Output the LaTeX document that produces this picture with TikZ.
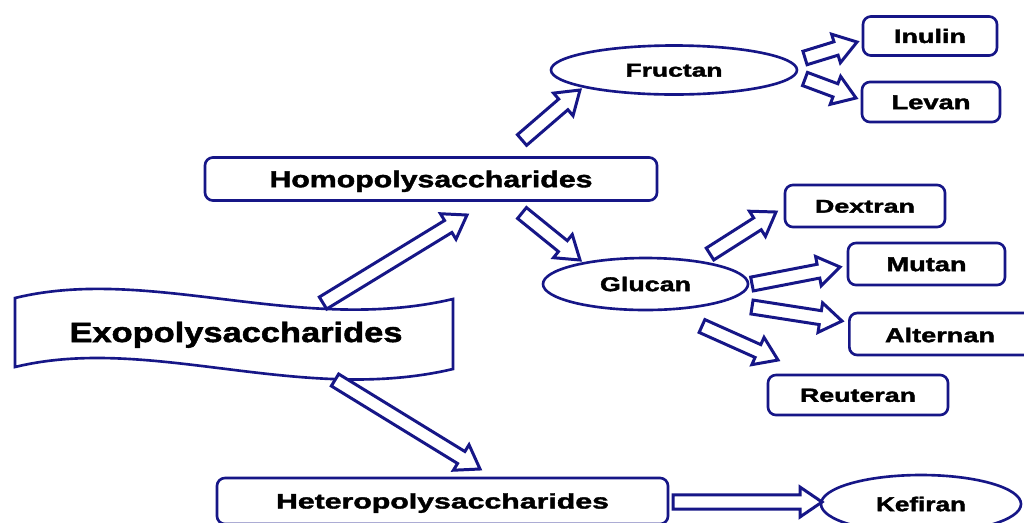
\documentclass[tikz,border=0pt]{standalone}
\usepackage{fontspec}
\setmainfont{Liberation Sans}[BoldFeatures={FakeBold=1.6}]
\usepackage{graphicx}
\usetikzlibrary{calc,shapes.geometric}
\definecolor{navy}{RGB}{22,22,135}
\newlength\pxu \setlength\pxu{0.02cm}
\newlength\hc
% #1 target width (px), #2 font size (px), #3 text
\newcommand\lbl[3]{\setlength\hc{#2\pxu}\setlength\hc{0.358\hc}%
  \raisebox{-\hc}[\hc][\hc]{\resizebox{#1\pxu}{\height}{\fontsize{#2\pxu}{#2\pxu}\selectfont\bfseries #3}}}
\newcommand\barrow[2]{%
  \draw[blk] let \p1=($(#2)-(#1)$), \n1={atan2(\y1,\x1)}, \n2={veclen(\x1,\y1)-12.5pt} in
  ($(#1)+(\n1+90:4pt)$) -- ($(#1)+(\n1:\n2)+(\n1+90:4pt)$) -- ($(#1)+(\n1:\n2)+(\n1+90:8.5pt)$) -- (#2)
  -- ($(#1)+(\n1:\n2)+(\n1-90:8.5pt)$) -- ($(#1)+(\n1:\n2)+(\n1-90:4pt)$) -- ($(#1)+(\n1-90:4pt)$) -- cycle;}
\tikzset{
  blk/.style={draw=navy, line width=1.7pt, fill=white, line join=miter},
  box/.style={draw=navy, line width=1.5pt, rounded corners=4.5pt, fill=white, inner sep=0pt},
  ell/.style={draw=navy, line width=1.5pt, ellipse, fill=white, inner sep=0pt},
  txt/.style={inner sep=0pt}
}
\begin{document}
\begin{tikzpicture}[x=0.02cm,y=-0.02cm]
\useasboundingbox (0,0) rectangle (1024,522);
\clip (0,0) rectangle (1024,522);
\fill[white] (0,0) rectangle (1024,522);

% banner (Exopolysaccharides)
\draw[navy, line width=1.5pt, fill=white, line join=miter]
  (15,298) .. controls (150,265) and (300,335) .. (453,299) -- (453,369)
  .. controls (300,405) and (150,334) .. (15,367) -- cycle;
\node[txt] (exo) at (236,332) {\lbl{333}{28}{Exopolysaccharides}};

% level 1
\node[box, minimum width=452\pxu, minimum height=43\pxu] (homo) at (431,179) {\lbl{323}{23}{Homopolysaccharides}};
\node[box, minimum width=451\pxu, minimum height=46\pxu] (hetero) at (442.5,501) {\lbl{333}{21}{Heteropolysaccharides}};

% level 2
\node[ell, minimum width=246\pxu, minimum height=49\pxu] (fructan) at (674,70) {\lbl{97}{18.5}{Fructan}};
\node[ell, minimum width=205\pxu, minimum height=52\pxu] (glucan) at (645.5,284) {\lbl{91}{20}{Glucan}};
\node[ell, minimum width=200\pxu, minimum height=58\pxu] (kefiran) at (921,504) {\lbl{90}{20}{Kefiran}};

% level 3
\node[box, minimum width=134\pxu, minimum height=39\pxu] (inulin) at (930,36) {\lbl{72}{19.5}{Inulin}};
\node[box, minimum width=138\pxu, minimum height=40\pxu] (levan) at (931,102) {\lbl{79}{20}{Levan}};
\node[box, minimum width=160\pxu, minimum height=42\pxu] (dextran) at (865,206) {\lbl{100}{18.5}{Dextran}};
\node[box, minimum width=157\pxu, minimum height=42\pxu] (mutan) at (926.5,264) {\lbl{80}{20}{Mutan}};
\node[box, minimum width=190\pxu, minimum height=42\pxu, anchor=west] (alternan) at (848,334) {};
\node[txt] (alternantext) at (940,335) {\lbl{110}{20}{Alternan}};
\node[box, minimum width=180\pxu, minimum height=40\pxu] (reuteran) at (858,395) {\lbl{116}{19}{Reuteran}};

% arrow end points
\coordinate (a1s) at (323,303); \coordinate (a1e) at (467,215);
\coordinate (a2s) at (335,380); \coordinate (a2e) at (480,469);
\coordinate (a3s) at (522,140); \coordinate (a3e) at (580,90);
\coordinate (a4s) at (522,213); \coordinate (a4e) at (580,260);
\coordinate (a5s) at (805,58);  \coordinate (a5e) at (857,42);
\coordinate (a6s) at (805,79);  \coordinate (a6e) at (856,98);
\coordinate (a7s) at (710,254); \coordinate (a7e) at (776,212);
\coordinate (a8s) at (752,284); \coordinate (a8e) at (840,267);
\coordinate (a9s) at (752,307); \coordinate (a9e) at (842,321);
\coordinate (a10s) at (702,326); \coordinate (a10e) at (778,360);
\coordinate (a11s) at (673,502); \coordinate (a11e) at (822,502);

\barrow{a1s}{a1e}
\barrow{a2s}{a2e}
\barrow{a3s}{a3e}
\barrow{a4s}{a4e}
\barrow{a5s}{a5e}
\barrow{a6s}{a6e}
\barrow{a7s}{a7e}
\barrow{a8s}{a8e}
\barrow{a9s}{a9e}
\barrow{a10s}{a10e}
\barrow{a11s}{a11e}
\end{tikzpicture}
\end{document}
